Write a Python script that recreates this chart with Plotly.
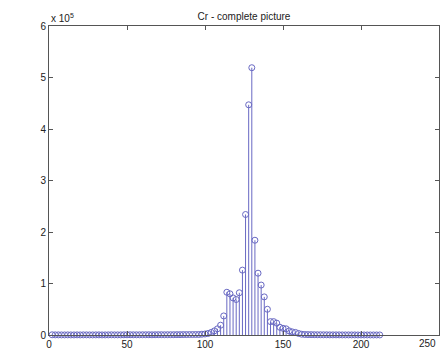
import plotly.graph_objects as go

# Bin positions (Cr value) and counts
bins = list(range(2, 213, 2))
counts = (
    [400, 300, 300, 200, 200, 300, 200, 200, 300, 200,
     300, 300, 200, 200, 300, 300, 200, 200, 300, 400,
     300, 300, 300, 400, 400, 500, 400, 400, 400, 500,
     500, 500, 400, 500, 600, 600, 500, 600, 600, 600,
     700, 700, 800, 800, 900, 900, 1000]
    + [1000, 1500, 2000, 3000, 5000, 8000, 12000, 19000, 37000, 83000,
       80000, 72000, 69000, 82000, 126000, 234000, 447000, 519000, 184000, 120000,
       97000, 74000, 50000, 26000, 26000, 23000, 15000, 13000, 12000, 8000,
       6000, 5000, 3000, 1500, 1000]
    + [800, 700, 600, 500, 500, 400, 400, 300, 300, 300, 300, 200,
       200, 200, 200, 200, 100, 100, 100, 100, 100, 100, 100, 100]
)
scale = 1e5
yticks = [0, 1, 2, 3, 4, 5, 6]
xticks = [0, 50, 100, 150, 200, 250]
xticklabels = ["0", "50", "100", "150", "200", "250"]
title = "Cr - complete picture"

vals = [c / scale for c in counts]
sx, sy = [], []
for x, v in zip(bins, vals):
    sx += [x, x, None]
    sy += [0, v, None]

col = "rgb(105,105,195)"
fig = go.Figure()
fig.add_trace(go.Scatter(x=sx, y=sy, mode="lines",
                         line=dict(color=col, width=1), hoverinfo="skip",
                         cliponaxis=False))
fig.add_trace(go.Scatter(x=bins, y=vals, mode="markers", cliponaxis=False,
                         marker=dict(symbol="circle-open", size=6,
                                     color=col, line=dict(width=1, color=col))))

axis_common = dict(showgrid=False, zeroline=False, showline=True, linecolor="#555",
                   linewidth=1, mirror="ticks", ticks="inside", ticklen=4,
                   tickcolor="#555", automargin=False,
                   tickfont=dict(size=10, color="#222"))
# last x label is drawn as an annotation so it stays inside the window
fig.update_xaxes(range=[0, 250], tickvals=xticks,
                 ticktext=xticklabels[:-1] + [""], **axis_common)
fig.update_yaxes(range=[0, 6], tickvals=yticks, **axis_common)

# page body has an 8px default margin, so the figure is sized to fit the window
fig.update_layout(
    width=440, height=342, showlegend=False,
    paper_bgcolor="white", plot_bgcolor="white",
    margin=dict(l=41, r=9, t=18, b=15, autoexpand=False),
    font=dict(family="Liberation Sans, Arial, sans-serif", color="#222"),
    title=dict(text=title, x=0.5, xref="paper", y=1 - 8 / 342, yanchor="middle",
               font=dict(size=10)),
    annotations=[
        dict(text="x 10<sup>5</sup>", xref="paper", yref="paper",
             x=0, y=1, xanchor="left", yanchor="bottom", showarrow=False,
             font=dict(size=10, color="#222")),
        dict(text=xticklabels[-1], xref="x", yref="paper", x=xticks[-1], y=0,
             xanchor="right", yanchor="top", showarrow=False, xshift=-1, yshift=-1,
             font=dict(size=10, color="#222")),
    ],
)
fig.write_html("out.html")
